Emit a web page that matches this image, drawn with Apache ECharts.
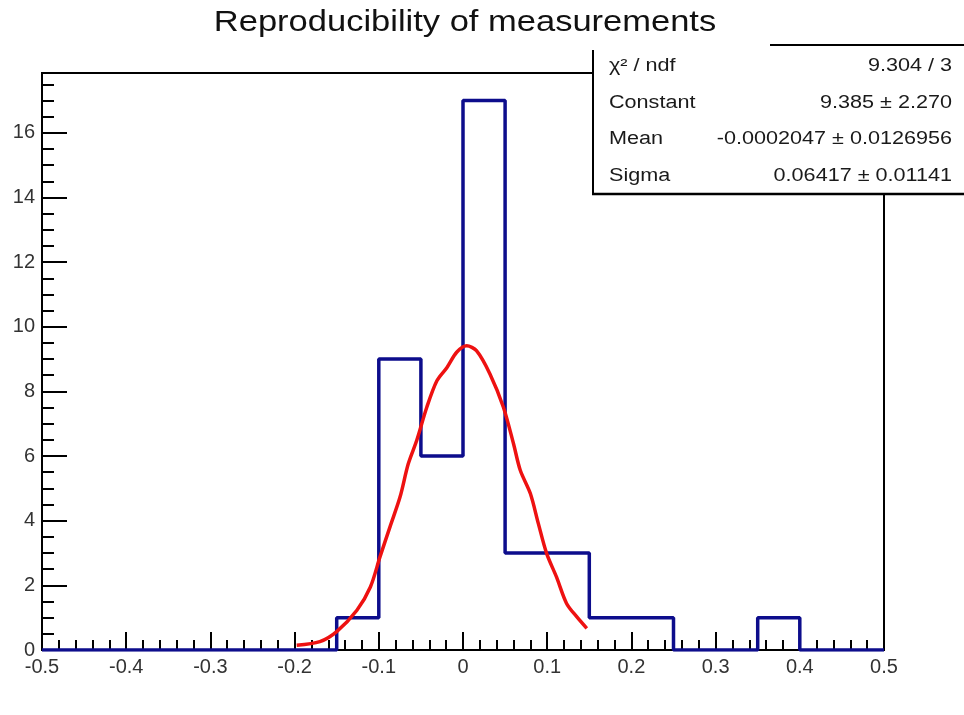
<!DOCTYPE html>
<html><head><meta charset="utf-8">
<script src="https://cdn.jsdelivr.net/npm/echarts@6/dist/echarts.min.js"></script>
<style>html,body{margin:0;padding:0;background:#fff}#c{width:964px;height:715px}</style>
</head><body><div id="c"></div>
<script>
const chartTitle = 'Reproducibility of measurements';
const binLow = [-0.5,-0.45,-0.4,-0.35,-0.3,-0.25,-0.2,-0.15,-0.1,-0.05,0,0.05,0.1,0.15,0.2,0.25,0.3,0.35,0.4,0.45];
const binHigh = 0.5;
const counts = [0,0,0,0,0,0,0,1,9,6,17,3,3,1,1,0,0,1,0,0];
const fitX = [-0.1975,-0.170,-0.150,-0.126,-0.110,-0.0986,-0.0867,-0.0748,-0.065,-0.055,-0.043,-0.031,-0.019,-0.0075,0.0044,0.016,0.032,0.048,0.060,0.068,0.080,0.0895,0.0994,0.111,0.123,0.135,0.147];
const fitY = [0.15,0.26,0.57,1.23,1.95,2.88,3.81,4.73,5.76,6.48,7.51,8.33,8.74,9.21,9.41,9.26,8.54,7.51,6.38,5.56,4.84,3.91,2.98,2.26,1.44,1.03,0.67];
const statsLabels = ['\u03C7\u00B2 / ndf','Constant','Mean','Sigma'];
const statsValues = ['9.304 / 3','9.385 \u00B1 2.270','-0.0002047 \u00B1 0.0126956','0.06417 \u00B1 0.01141'];

const font = "'Liberation Sans', Arial, sans-serif";
const histData = binLow.map((x,i)=>[x,counts[i]]);
histData.push([binHigh, counts[counts.length-1]]);
const fitData = fitX.map((x,i)=>[x,fitY[i]]);

const rowY = [66, 103, 139, 176];
const gfx = [
  {type:'text', z:110, x:465, y:23, scaleX:1.15, style:{text:chartTitle, font:'30px '+font, fill:'#111', textAlign:'center', textVerticalAlign:'middle'}},
  {type:'rect', z:100, shape:{x:593,y:45,width:380,height:148}, style:{fill:'#fff'}},
  {type:'line', z:101, shape:{x1:593,y1:50,x2:593,y2:194}, style:{stroke:'#000',lineWidth:2}},
  {type:'line', z:101, shape:{x1:592,y1:194,x2:964,y2:194}, style:{stroke:'#000',lineWidth:2.5}},
  {type:'line', z:101, shape:{x1:770,y1:45,x2:964,y2:45}, style:{stroke:'#000',lineWidth:2}}
];
statsLabels.forEach((t,i)=>{
  gfx.push({type:'text', z:102, x:609, y:rowY[i], scaleX:1.2, style:{text:t, font:'18px '+font, fill:'#1a1a1a', textVerticalAlign:'middle', textAlign:'left'}});
  gfx.push({type:'text', z:102, x:952, y:rowY[i], scaleX:1.2, style:{text:statsValues[i], font:'18px '+font, fill:'#1a1a1a', textVerticalAlign:'middle', textAlign:'right'}});
});

const chart = echarts.init(document.getElementById('c'), null, {renderer:'canvas'});
chart.setOption({
  animation:false,
  backgroundColor:'#fff',
  grid:{left:42, right:80, top:73, bottom:65, show:true, borderColor:'#000', borderWidth:2, backgroundColor:'transparent'},
  xAxis:{type:'value', min:-0.5, max:0.5, interval:0.1,
    axisLine:{onZero:false, lineStyle:{color:'#000', width:2}},
    axisTick:{inside:true, length:18, lineStyle:{color:'#000', width:2}},
    minorTick:{show:true, splitNumber:5, length:10, lineStyle:{color:'#000', width:2}},
    splitLine:{show:false},
    axisLabel:{margin:7, fontFamily:font, fontSize:20, color:'#333', hideOverlap:false,
      formatter:v=>{const r=Math.round(v*10)/10; return r===0?'0':String(r);}}},
  yAxis:{type:'value', min:0, max:17.85, interval:2,
    axisLine:{onZero:false, lineStyle:{color:'#000', width:2}},
    axisTick:{inside:true, length:25, lineStyle:{color:'#000', width:2}},
    minorTick:{show:true, splitNumber:4, length:12, lineStyle:{color:'#000', width:2}},
    splitLine:{show:false},
    axisLabel:{margin:7, fontFamily:font, fontSize:20, color:'#333', showMaxLabel:false, hideOverlap:false}},
  series:[
    {type:'line', data:histData, step:'end', symbol:'none', z:3,
     lineStyle:{color:'#0d0d8c', width:3.5}},
    {type:'line', data:fitData, smooth:0.3, symbol:'none', z:4,
     lineStyle:{color:'#ee1111', width:3.5}}
  ],
  graphic:gfx
});
</script></body></html>
